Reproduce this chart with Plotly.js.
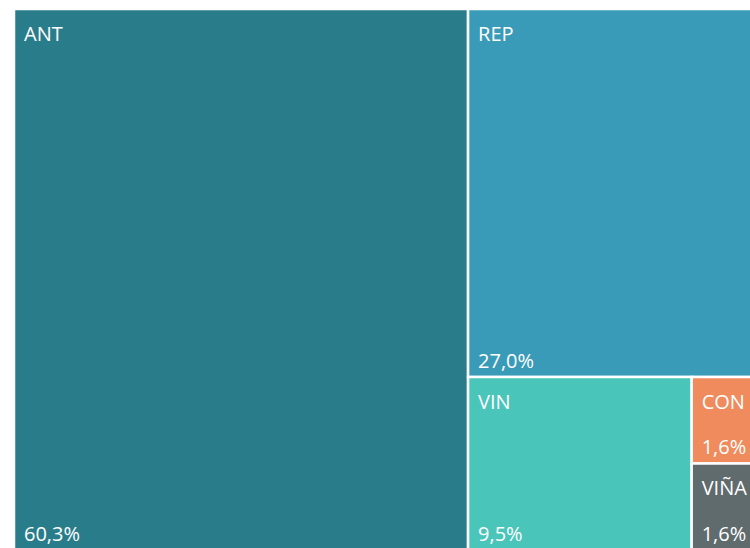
<!DOCTYPE html>
<html>
<head>
<meta charset="utf-8">
<script src="https://cdn.plot.ly/plotly-3.0.1.min.js"></script>
<style>
html,body{margin:0;padding:0;overflow:hidden;background:#fff;}
#chart{width:780px;height:565px;}
</style>
</head>
<body>
<div id="chart"></div>
<script>
const labels = ["ANT", "REP", "VIN", "CON", "VIÑA"];
const values = [60.3, 27.0, 9.5, 1.6, 1.6];
const colors = ["#297d8b", "#3a9bb8", "#4ac5b9", "#ef8b5c", "#5f6b6d"];
const parents = labels.map(() => "");

const fontFam = "'Open Sans', 'Noto Sans', sans-serif";
const W = 780, H = 565;
// pixel box of the treemap (partly outside the visible window, as in the reference)
function dom(left, top, right, bottom) {
  return {x: [left / W, right / W], y: [1 - bottom / H, 1 - top / H]};
}

const base = {
  type: "treemap",
  labels: labels,
  parents: parents,
  values: values,
  sort: false,
  tiling: {packing: "squarify", pad: 0},
  pathbar: {visible: false},
  hoverinfo: "skip"
};
const noPad = {t: 0, l: 0, r: 0, b: 0};

const tileTrace = Object.assign({}, base, {
  domain: dom(14, 9, 767, 550),
  marker: {colors: colors, line: {color: "#ffffff", width: 2.5}, pad: noPad},
  texttemplate: " ",
  textfont: {family: fontFam, size: 20, color: "#ffffff"}
});

const labelTrace = Object.assign({}, base, {
  domain: dom(21, 17, 774, 558),
  marker: {colors: labels.map(() => "rgba(0,0,0,0)"), line: {width: 0}, pad: noPad},
  texttemplate: "%{label}",
  textposition: "top left",
  textfont: {family: fontFam, size: 20, color: "#ffffff"}
});

const pctTrace = Object.assign({}, base, {
  domain: dom(21, 9, 774, 550),
  marker: {colors: labels.map(() => "rgba(0,0,0,0)"), line: {width: 0}, pad: noPad},
  texttemplate: "%{value:.1f}%",
  textposition: "bottom left",
  textfont: {family: fontFam, size: 20, color: "#ffffff"}
});

Plotly.newPlot("chart", [tileTrace, labelTrace, pctTrace], {
  width: W,
  height: H,
  margin: {l: 0, r: 0, t: 0, b: 0, pad: 0},
  separators: ",.",
  paper_bgcolor: "#ffffff",
  showlegend: false
}, {displayModeBar: false, staticPlot: true});
</script>
</body>
</html>
